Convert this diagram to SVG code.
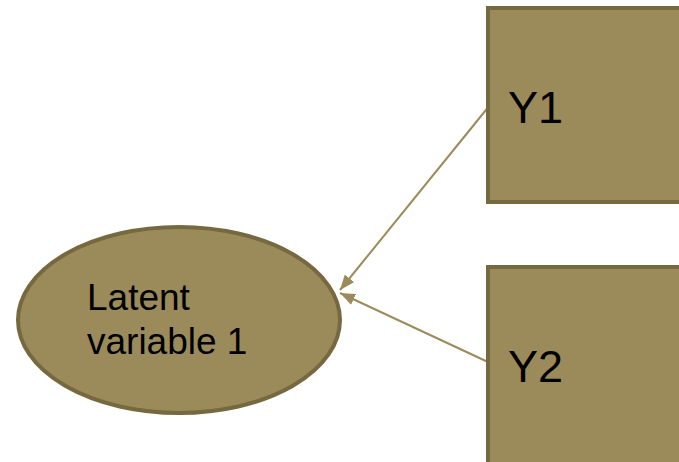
<svg xmlns="http://www.w3.org/2000/svg" width="679" height="462" viewBox="0 0 679 462">
<style>
.shape{fill:#9C8B5A;stroke:#76683F;stroke-width:4}
.lbl{font-family:"Liberation Sans",Arial,sans-serif;fill:#000}
.conn{stroke:#9C8B5A;stroke-width:2;fill:none}
</style>
<defs>
<marker id="ah" viewBox="0 0 10 10" refX="10" refY="5" markerWidth="15" markerHeight="12" markerUnits="userSpaceOnUse" orient="auto" preserveAspectRatio="none">
<path d="M0,0 L10,5 L0,10 z" fill="#9C8B5A"/>
</marker>
</defs>
<rect width="679" height="462" fill="#fff"/>
<g id="connectors">
<line class="conn" x1="490" y1="105" x2="340" y2="290" marker-end="url(#ah)"/>
<line class="conn" x1="488" y1="362" x2="340" y2="293" marker-end="url(#ah)"/>
</g>
<g id="latent1">
<ellipse class="shape" cx="179" cy="320" rx="161" ry="93"/>
<text class="lbl" x="87" y="310" font-size="37">Latent</text>
<text class="lbl" x="87" y="354" font-size="37">variable 1</text>
</g>
<g id="y1">
<rect class="shape" x="488" y="8" width="200" height="194"/>
<text class="lbl" x="508" y="123" font-size="45">Y1</text>
</g>
<g id="y2">
<rect class="shape" x="488" y="267" width="200" height="200"/>
<text class="lbl" x="508" y="382" font-size="45">Y2</text>
</g>
</svg>
